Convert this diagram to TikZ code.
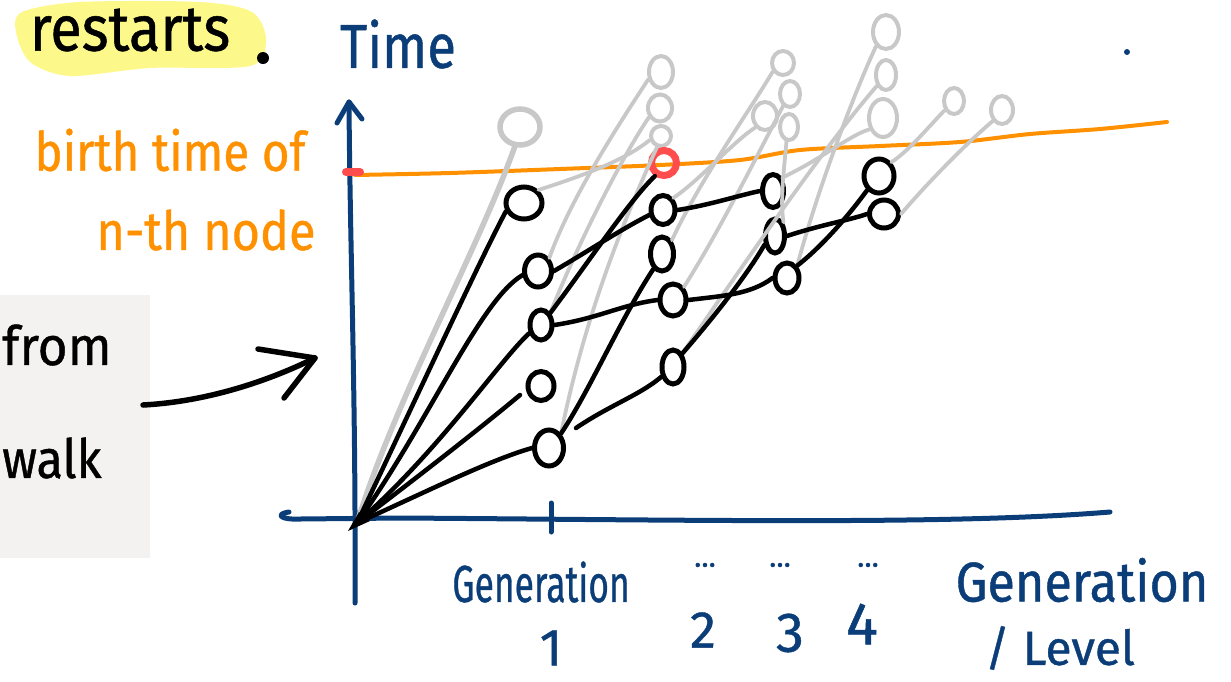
\documentclass[tikz,border=0pt]{standalone}
\usepackage{fontspec}
\setmainfont{Fira Sans}[FakeBold=0.8,AutoFakeBold=0.8]
\usetikzlibrary{shapes.geometric}
\definecolor{dblue}{HTML}{0B3D78}
\definecolor{lgray}{HTML}{C8C8C8}
\definecolor{orng}{HTML}{FF9100}
\definecolor{rred}{HTML}{FF4D4D}
\definecolor{hyel}{HTML}{FCF98A}
\definecolor{boxg}{HTML}{F3F2F0}
\tikzset{
  bn/.style={draw=black, line width=5pt, ellipse, inner sep=0pt},
  gnode/.style={draw=lgray, line width=4pt, ellipse, inner sep=0pt},
  bl/.style={line width=4.5pt, black, line cap=round},
  gline/.style={line width=3.8pt, lgray, line cap=round},
  ax/.style={line width=5pt, dblue, line cap=round, line join=round},
  lbl/.style={inner sep=0pt, text=dblue},
  otxt/.style={inner sep=0pt, text=orng},
}
\begin{document}
\begin{tikzpicture}[x=1pt,y=-1pt]
\useasboundingbox (0,0) rectangle (1231,681);
% highlight and title
\fill[hyel] plot[smooth cycle] coordinates {(22,12) (80,2) (200,2) (252,12) (266,40) (250,66) (150,68) (70,76) (30,62) (16,32)};
\node[inner sep=0pt] (rst) at (130,30) {\fontsize{64}{64}\selectfont\scalebox{0.9}[1]{restarts}};
\fill (263,58) circle (6);
\node[lbl] (time) at (398,44) {\fontsize{62}{62}\selectfont\scalebox{0.85}[1]{Time}};
\fill[dblue] (1127,52) circle (3);
% grey box and text
\fill[boxg] (0,295) rectangle (150,558);
\node[inner sep=0pt, anchor=west] (from) at (2,345) {\fontsize{54}{54}\selectfont\scalebox{0.95}[1]{from}};
\node[inner sep=0pt, anchor=west] (walk) at (2,458) {\fontsize{54}{54}\selectfont\scalebox{0.9}[1]{walk}};
% orange labels
\node[otxt] (birth) at (170,150) {\fontsize{54}{54}\selectfont\scalebox{0.88}[1]{birth time of}};
\node[otxt] (nth) at (206,230) {\fontsize{54}{54}\selectfont\scalebox{0.9}[1]{n-th node}};
% arrow from box
\coordinate (aS) at (143,405);
\coordinate (aT) at (315,358);
\coordinate (aU) at (258,349);
\coordinate (aL) at (284,398);
\draw[bl, line width=5.5pt] (aS) .. controls (200,402) and (260,385) .. (aT);
\draw[bl, line width=5.5pt, line join=round] (aU) -- (aT) -- (aL);
% axes
\coordinate (O) at (357,523);
\coordinate (yB) at (355,603);
\coordinate (yT) at (349,102);
\draw[ax] (yB) .. controls (356,400) and (350,250) .. (yT);
\draw[ax] (337,123) -- (yT) -- (362,119);
\coordinate (xL) at (289,512);
\coordinate (xR) at (1110,512);
\draw[ax] (xL) .. controls (275,514) and (280,520) .. (300,519) -- (400,518) .. controls (700,520) and (950,525) .. (xR);
\draw[ax] (551,503) -- (551,532);
% orange line and red tick
\draw[orng, line width=4pt, line cap=round] plot[smooth] coordinates {(355,175) (450,173) (560,169) (660,165) (740,160) (800,150) (880,146) (960,142) (1030,134) (1100,129) (1167,122)};
\draw[rred, line width=8pt, line cap=round] (346,172) -- (360,172);
% grey nodes
\node[gnode, line width=5.5pt, minimum width=40pt, minimum height=36pt] (g1) at (520,127) {};
\node[gnode, minimum width=24pt, minimum height=32pt] (g2) at (661,72) {};
\node[gnode, minimum width=24pt, minimum height=27pt] (g3) at (660,108) {};
\node[gnode, minimum width=20pt, minimum height=20pt] (g4) at (661,136) {};
\node[gnode, minimum width=22pt, minimum height=24pt] (g5) at (783,63) {};
\node[gnode, minimum width=20pt, minimum height=26pt] (g6) at (790,94) {};
\node[gnode, minimum width=24pt, minimum height=28pt] (g7) at (765,116) {};
\node[gnode, minimum width=18pt, minimum height=26pt] (g8) at (789,127) {};
\node[gnode, minimum width=26pt, minimum height=34pt] (g9) at (886,32) {};
\node[gnode, minimum width=20pt, minimum height=30pt] (g10) at (886,75) {};
\node[gnode, minimum width=28pt, minimum height=38pt] (g11) at (883,118) {};
\node[gnode, minimum width=20pt, minimum height=26pt] (g12) at (954,101) {};
\node[gnode, minimum width=22pt, minimum height=28pt] (g13) at (1002,110) {};
% black nodes
\node[bn, minimum width=36pt, minimum height=32pt] (n1) at (524,203) {};
\node[bn, minimum width=27pt, minimum height=32pt] (n2) at (538,271) {};
\node[bn, minimum width=22pt, minimum height=30pt] (n3) at (541,325) {};
\node[bn, minimum width=26pt, minimum height=29pt] (n4) at (541,386) {};
\node[bn, minimum width=29pt, minimum height=36pt] (n5) at (549,448) {};
\node[bn, minimum width=24pt, minimum height=29pt] (n6) at (663,210) {};
\node[bn, minimum width=23pt, minimum height=34pt] (n7) at (662,254) {};
\node[bn, minimum width=26pt, minimum height=32pt] (n8) at (673,300) {};
\node[bn, minimum width=22pt, minimum height=34pt] (n9) at (673,367) {};
\node[bn, minimum width=21pt, minimum height=33pt] (n10) at (773,191) {};
\node[bn, minimum width=19pt, minimum height=34pt] (n11) at (775,236) {};
\node[bn, minimum width=24pt, minimum height=30pt] (n12) at (787,278) {};
\node[bn, minimum width=30pt, minimum height=34pt] (n13) at (879,176) {};
\node[bn, minimum width=29pt, minimum height=28pt] (n14) at (884,214) {};
\node[draw=rred, line width=7pt, circle, inner sep=0pt, minimum size=25pt] (red) at (664,163) {};
% grey edges
\draw[gline, line width=5.5pt] (O) .. controls (395,400) and (478,250) .. (g1.255);
\draw[gline] (n1.north east) .. controls (585,175) and (625,160) .. (g4.200);
\draw[gline] (n2.north east) .. controls (570,200) and (615,130) .. (g2.210);
\draw[gline] (n3.north east) .. controls (575,250) and (620,160) .. (g3.220);
\draw[gline] (n5.north east) .. controls (580,340) and (610,250) .. (g4.250);
\draw[gline] (n6.north east) .. controls (700,180) and (735,140) .. (g7.230);
\draw[gline] (n7.north east) .. controls (700,180) and (750,110) .. (g5.220);
\draw[gline] (n8.north east) .. controls (720,230) and (760,150) .. (g6.240);
\draw[gline] (n9.north east) .. controls (760,240) and (830,140) .. (g10.230);
\draw[gline] (n10.north east) .. controls (820,160) and (850,135) .. (g11.220);
\draw[gline] (n11.north east) .. controls (780,200) and (784,170) .. (g8.260);
\draw[gline] (n12.north east) .. controls (820,180) and (860,80) .. (g9.235);
\draw[gline] (n13.north east) .. controls (910,150) and (930,125) .. (g12.225);
\draw[gline] (n14.east) .. controls (930,180) and (970,140) .. (g13.230);
% black edges
\coordinate (n4e) at (520,395);
\coordinate (s1) at (576,428);
\draw[bl] (O) .. controls (420,390) and (480,260) .. (n1.205);
\draw[bl] (O) .. controls (430,420) and (480,300) .. (n2.195);
\draw[bl] (O) .. controls (440,450) and (500,360) .. (n3.215);
\draw[bl] (O) .. controls (440,460) and (490,420) .. (n4e);
\draw[bl] (O) .. controls (430,490) and (490,460) .. (n5.180);
\draw[bl] (n2.east) .. controls (590,250) and (620,230) .. (n6.200);
\draw[bl] (n3.north east) .. controls (590,260) and (630,200) .. (red.235);
\draw[bl] (n3.east) .. controls (600,318) and (620,305) .. (n8.west);
\draw[bl] (n5.north east) .. controls (590,390) and (620,320) .. (n7.240);
\draw[bl] (s1) .. controls (610,405) and (640,395) .. (n9.220);
\draw[bl] (n6.east) .. controls (710,205) and (740,195) .. (n10.west);
\draw[bl] (n8.east) .. controls (720,296) and (750,295) .. (n12.west);
\draw[bl] (n9.north east) .. controls (720,310) and (750,270) .. (n11.220);
\draw[bl] (n12.north east) .. controls (830,240) and (860,200) .. (n13.230);
\draw[bl] (n11.east) .. controls (820,225) and (850,220) .. (n14.west);
\fill (O) ++(-9,8) -- ++(11,-19) -- ++(11,9) -- cycle;
% bottom labels
\node[lbl] (gen1) at (541,582) {\fontsize{52}{52}\selectfont\scalebox{0.68}[1]{Generation}};
\node[lbl] (one) at (551,648) {\fontsize{52}{52}\selectfont 1};
\node[lbl] (d1) at (705,565) {\fontsize{30}{30}\selectfont ...};
\node[lbl] (d2) at (780,565) {\fontsize{30}{30}\selectfont ...};
\node[lbl] (d3) at (868,565) {\fontsize{30}{30}\selectfont ...};
\node[lbl] (two) at (703,630) {\fontsize{52}{52}\selectfont 2};
\node[lbl] (three) at (790,633) {\fontsize{56}{56}\selectfont 3};
\node[lbl] (four) at (862,624) {\fontsize{60}{60}\selectfont 4};
\node[lbl] (gen2) at (1082,580) {\fontsize{56}{56}\selectfont\scalebox{0.9}[1]{Generation}};
\node[lbl] (lvl) at (1060,648) {\fontsize{48}{48}\selectfont / Level};
\end{tikzpicture}
\end{document}
